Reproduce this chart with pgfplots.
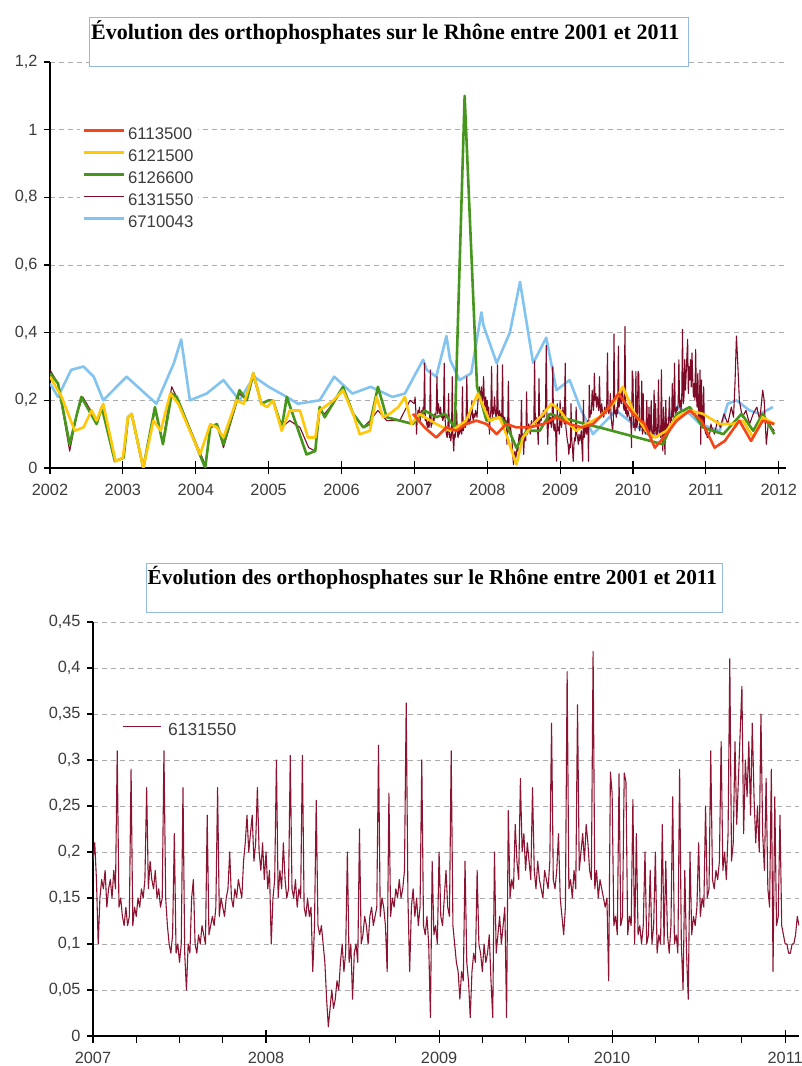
\documentclass[border=0pt]{standalone}
\usepackage{fontspec}
\setmainfont{Liberation Sans}
\newfontfamily\titlefont{Liberation Serif}
\usepackage{pgfplots}
\usepackage{pgfplotstable}
\pgfplotsset{compat=1.18}
\definecolor{cRed}{RGB}{245,70,25}
\definecolor{cYellow}{RGB}{255,200,10}
\definecolor{cGreen}{RGB}{70,150,30}
\definecolor{cMaroon}{RGB}{125,10,38}
\definecolor{cMaroonB}{RGB}{140,20,50}
\definecolor{cBlue}{RGB}{130,195,240}
\definecolor{cBox}{RGB}{150,185,225}
\definecolor{tickgray}{RGB}{60,60,60}

\pgfplotstableread[row sep=\\]{
x y\\
2007.00 0.19\\ 2007.01 0.21\\ 2007.02 0.17\\ 2007.03 0.10\\ 2007.04 0.15\\ 2007.05 0.17\\ 2007.06 0.16\\ 2007.07 0.18\\ 2007.08 0.14\\ 2007.09 0.16\\
2007.10 0.17\\ 2007.11 0.15\\ 2007.12 0.18\\ 2007.13 0.16\\ 2007.14 0.31\\ 2007.15 0.14\\ 2007.16 0.15\\ 2007.17 0.13\\ 2007.18 0.12\\ 2007.19 0.14\\
2007.20 0.12\\ 2007.21 0.13\\ 2007.22 0.29\\ 2007.23 0.12\\ 2007.24 0.14\\ 2007.25 0.13\\ 2007.26 0.15\\ 2007.27 0.14\\ 2007.28 0.16\\ 2007.29 0.15\\
2007.30 0.17\\ 2007.31 0.27\\ 2007.32 0.16\\ 2007.33 0.19\\ 2007.34 0.17\\ 2007.35 0.16\\ 2007.36 0.18\\ 2007.37 0.15\\ 2007.38 0.16\\ 2007.39 0.14\\
2007.40 0.15\\ 2007.41 0.31\\ 2007.42 0.15\\ 2007.43 0.12\\ 2007.44 0.10\\ 2007.45 0.09\\ 2007.46 0.11\\ 2007.47 0.22\\ 2007.48 0.09\\ 2007.49 0.10\\
2007.50 0.08\\ 2007.51 0.10\\ 2007.52 0.27\\ 2007.53 0.09\\ 2007.54 0.05\\ 2007.55 0.10\\ 2007.56 0.09\\ 2007.57 0.15\\ 2007.58 0.17\\ 2007.59 0.10\\
2007.60 0.09\\ 2007.61 0.11\\ 2007.62 0.10\\ 2007.63 0.12\\ 2007.64 0.11\\ 2007.65 0.10\\ 2007.66 0.24\\ 2007.67 0.11\\ 2007.68 0.12\\ 2007.69 0.13\\
2007.70 0.12\\ 2007.71 0.14\\ 2007.72 0.27\\ 2007.73 0.13\\ 2007.74 0.15\\ 2007.75 0.14\\ 2007.76 0.13\\ 2007.77 0.15\\ 2007.78 0.16\\ 2007.79 0.20\\
2007.80 0.15\\ 2007.81 0.14\\ 2007.82 0.16\\ 2007.83 0.15\\ 2007.84 0.17\\ 2007.85 0.16\\ 2007.86 0.15\\ 2007.87 0.19\\ 2007.88 0.21\\ 2007.89 0.24\\
2007.90 0.20\\ 2007.91 0.22\\ 2007.92 0.24\\ 2007.93 0.19\\ 2007.94 0.21\\ 2007.95 0.27\\ 2007.96 0.20\\ 2007.97 0.18\\ 2007.98 0.21\\ 2007.99 0.17\\
2008.00 0.20\\ 2008.01 0.16\\ 2008.02 0.18\\ 2008.03 0.10\\ 2008.04 0.15\\ 2008.05 0.17\\ 2008.06 0.30\\ 2008.07 0.15\\ 2008.08 0.18\\ 2008.09 0.16\\
2008.10 0.21\\ 2008.11 0.17\\ 2008.12 0.15\\ 2008.13 0.16\\ 2008.14 0.305\\ 2008.15 0.16\\ 2008.16 0.15\\ 2008.17 0.17\\ 2008.18 0.14\\ 2008.19 0.16\\
2008.20 0.15\\ 2008.21 0.305\\ 2008.22 0.14\\ 2008.23 0.13\\ 2008.24 0.15\\ 2008.25 0.13\\ 2008.26 0.14\\ 2008.27 0.07\\ 2008.28 0.12\\ 2008.29 0.256\\
2008.30 0.12\\ 2008.31 0.11\\ 2008.32 0.12\\ 2008.33 0.10\\ 2008.34 0.08\\ 2008.35 0.04\\ 2008.36 0.01\\ 2008.37 0.03\\ 2008.38 0.05\\ 2008.39 0.03\\
2008.40 0.04\\ 2008.41 0.06\\ 2008.42 0.05\\ 2008.43 0.08\\ 2008.44 0.10\\ 2008.45 0.07\\ 2008.46 0.09\\ 2008.47 0.20\\ 2008.48 0.08\\ 2008.49 0.10\\
2008.50 0.04\\ 2008.51 0.09\\ 2008.52 0.10\\ 2008.53 0.08\\ 2008.54 0.225\\ 2008.55 0.10\\ 2008.56 0.11\\ 2008.57 0.13\\ 2008.58 0.12\\ 2008.59 0.10\\
2008.60 0.13\\ 2008.61 0.14\\ 2008.62 0.12\\ 2008.63 0.13\\ 2008.64 0.14\\ 2008.65 0.316\\ 2008.66 0.13\\ 2008.67 0.15\\ 2008.68 0.14\\ 2008.69 0.12\\
2008.70 0.07\\ 2008.71 0.264\\ 2008.72 0.13\\ 2008.73 0.15\\ 2008.74 0.14\\ 2008.75 0.16\\ 2008.76 0.15\\ 2008.77 0.17\\ 2008.78 0.15\\ 2008.79 0.16\\
2008.80 0.18\\ 2008.81 0.362\\ 2008.82 0.15\\ 2008.83 0.07\\ 2008.84 0.14\\ 2008.85 0.16\\ 2008.86 0.13\\ 2008.87 0.15\\ 2008.88 0.12\\ 2008.89 0.14\\
2008.90 0.30\\ 2008.91 0.12\\ 2008.92 0.11\\ 2008.93 0.13\\ 2008.94 0.10\\ 2008.95 0.02\\ 2008.96 0.19\\ 2008.97 0.11\\ 2008.98 0.12\\ 2008.99 0.10\\
2009.00 0.20\\ 2009.01 0.13\\ 2009.02 0.12\\ 2009.03 0.15\\ 2009.04 0.18\\ 2009.05 0.14\\ 2009.06 0.13\\ 2009.07 0.31\\ 2009.08 0.12\\ 2009.09 0.10\\
2009.10 0.08\\ 2009.11 0.07\\ 2009.12 0.04\\ 2009.13 0.07\\ 2009.14 0.06\\ 2009.15 0.19\\ 2009.16 0.08\\ 2009.17 0.06\\ 2009.18 0.02\\ 2009.19 0.07\\
2009.20 0.09\\ 2009.21 0.08\\ 2009.22 0.18\\ 2009.23 0.10\\ 2009.24 0.09\\ 2009.25 0.07\\ 2009.26 0.10\\ 2009.27 0.08\\ 2009.28 0.09\\ 2009.29 0.11\\
2009.30 0.06\\ 2009.31 0.02\\ 2009.32 0.20\\ 2009.33 0.09\\ 2009.34 0.11\\ 2009.35 0.13\\ 2009.36 0.10\\ 2009.37 0.12\\ 2009.38 0.14\\ 2009.39 0.02\\
2009.40 0.245\\ 2009.41 0.15\\ 2009.42 0.17\\ 2009.43 0.16\\ 2009.44 0.23\\ 2009.45 0.19\\ 2009.46 0.17\\ 2009.47 0.28\\ 2009.48 0.20\\ 2009.49 0.22\\
2009.50 0.18\\ 2009.51 0.21\\ 2009.52 0.19\\ 2009.53 0.17\\ 2009.54 0.27\\ 2009.55 0.18\\ 2009.56 0.16\\ 2009.57 0.19\\ 2009.58 0.17\\ 2009.59 0.16\\
2009.60 0.15\\ 2009.61 0.18\\ 2009.62 0.17\\ 2009.63 0.16\\ 2009.64 0.19\\ 2009.65 0.34\\ 2009.66 0.17\\ 2009.67 0.16\\ 2009.68 0.18\\ 2009.69 0.22\\
2009.70 0.15\\ 2009.71 0.13\\ 2009.72 0.11\\ 2009.73 0.14\\ 2009.74 0.396\\ 2009.75 0.16\\ 2009.76 0.17\\ 2009.77 0.15\\ 2009.78 0.18\\ 2009.79 0.16\\
2009.80 0.36\\ 2009.81 0.18\\ 2009.82 0.20\\ 2009.83 0.22\\ 2009.84 0.19\\ 2009.85 0.23\\ 2009.86 0.21\\ 2009.87 0.18\\ 2009.88 0.17\\ 2009.89 0.418\\
2009.90 0.16\\ 2009.91 0.18\\ 2009.92 0.15\\ 2009.93 0.17\\ 2009.94 0.16\\ 2009.95 0.15\\ 2009.96 0.14\\ 2009.97 0.15\\ 2009.98 0.06\\ 2009.99 0.287\\
2010.00 0.264\\ 2010.01 0.12\\ 2010.02 0.13\\ 2010.03 0.11\\ 2010.04 0.285\\ 2010.05 0.12\\ 2010.06 0.13\\ 2010.07 0.286\\ 2010.08 0.276\\ 2010.09 0.11\\
2010.10 0.13\\ 2010.11 0.12\\ 2010.12 0.257\\ 2010.13 0.10\\ 2010.14 0.22\\ 2010.15 0.11\\ 2010.16 0.12\\ 2010.17 0.10\\ 2010.18 0.12\\ 2010.19 0.20\\
2010.20 0.10\\ 2010.21 0.11\\ 2010.22 0.18\\ 2010.23 0.10\\ 2010.24 0.12\\ 2010.25 0.20\\ 2010.26 0.09\\ 2010.27 0.11\\ 2010.28 0.10\\ 2010.29 0.23\\
2010.30 0.10\\ 2010.31 0.19\\ 2010.32 0.11\\ 2010.33 0.09\\ 2010.34 0.12\\ 2010.35 0.26\\ 2010.36 0.10\\ 2010.37 0.11\\ 2010.38 0.09\\ 2010.39 0.29\\
2010.40 0.10\\ 2010.41 0.05\\ 2010.42 0.18\\ 2010.43 0.09\\ 2010.44 0.04\\ 2010.45 0.20\\ 2010.46 0.11\\ 2010.47 0.13\\ 2010.48 0.12\\ 2010.49 0.14\\
2010.50 0.21\\ 2010.51 0.13\\ 2010.52 0.15\\ 2010.53 0.14\\ 2010.54 0.25\\ 2010.55 0.15\\ 2010.56 0.16\\ 2010.57 0.31\\ 2010.58 0.17\\ 2010.59 0.16\\
2010.60 0.18\\ 2010.61 0.17\\ 2010.62 0.19\\ 2010.63 0.32\\ 2010.64 0.18\\ 2010.65 0.20\\ 2010.66 0.17\\ 2010.67 0.22\\ 2010.68 0.41\\ 2010.69 0.19\\
2010.70 0.21\\ 2010.71 0.32\\ 2010.72 0.23\\ 2010.73 0.28\\ 2010.74 0.33\\ 2010.75 0.38\\ 2010.76 0.22\\ 2010.77 0.30\\ 2010.78 0.26\\ 2010.79 0.32\\
2010.80 0.24\\ 2010.81 0.34\\ 2010.82 0.26\\ 2010.83 0.21\\ 2010.84 0.25\\ 2010.85 0.20\\ 2010.86 0.35\\ 2010.87 0.22\\ 2010.88 0.18\\ 2010.89 0.28\\
2010.90 0.16\\ 2010.91 0.14\\ 2010.92 0.29\\ 2010.93 0.07\\ 2010.94 0.26\\ 2010.95 0.12\\ 2010.96 0.13\\ 2010.97 0.24\\ 2010.98 0.12\\ 2010.99 0.11\\
2011.00 0.10\\ 2011.01 0.10\\ 2011.02 0.09\\ 2011.03 0.09\\ 2011.04 0.10\\ 2011.05 0.10\\ 2011.06 0.11\\ 2011.07 0.13\\ 2011.08 0.12\\
}\stationdata

\pgfplotsset{
  common/.style={
    scale only axis, anchor=south west,
    axis x line=bottom, axis y line=left,
    axis line style={-, line width=1.3pt, black},
    tick align=outside,
    major tick length=13pt, minor tick length=6.5pt,
    major x tick style={yshift=6.5pt, line width=1.1pt, black},
    minor x tick style={line width=1.1pt, black},
    major y tick style={draw=none},
    minor y tick style={line width=1.1pt, black},
    ymajorgrids,
    grid style={dash pattern=on 5pt off 4pt, gray!65, line width=0.9pt},
    tick label style={font=\fontsize{16.3}{18}\selectfont, text=tickgray},
    yticklabel style={xshift=4pt},
    every axis plot/.append style={line join=round},
  }
}

\begin{document}
\begin{tikzpicture}
\useasboundingbox (0pt,0pt) rectangle (802pt,1066pt);
\fill[white] (0pt,0pt) rectangle (802pt,1066pt);

% ---------------- top chart ----------------
\begin{axis}[common,
  at={(50pt,598pt)}, width=736pt, height=406pt,
  xmin=2002, xmax=2012.1, ymin=0, ymax=1.2,
  xtick={2002,2003,...,2012},
  xticklabels={2002,2003,2004,2005,2006,2007,2008,2009,2010,2011,2012},
  minor x tick num=3,
  ytick={0,0.2,0.4,0.6,0.8,1,1.2},
  yticklabels={0,{0,2},{0,4},{0,6},{0,8},1,{1,2}},
  minor ytick={0,0.2,0.4,0.6,0.8,1,1.2},
  legend style={at={(0.0408,0.847)}, anchor=north west, draw=none, fill=white,
    inner xsep=2pt, inner ysep=2pt, row sep=5pt,
    font=\fontsize{16.8}{18}\selectfont, text=tickgray,
    nodes={inner xsep=3pt, inner ysep=1pt, text height=12pt, text depth=3pt},
    cells={anchor=west}},
  legend image code/.code={\draw[#1, line cap=butt] (0pt,4pt) -- (40pt,4pt);},
]
\addlegendimage{cRed, line width=2.8pt}\addlegendentry{6113500}
\addlegendimage{cYellow, line width=2.8pt}\addlegendentry{6121500}
\addlegendimage{cGreen, line width=2.8pt}\addlegendentry{6126600}
\addlegendimage{cMaroon, line width=1pt}\addlegendentry{6131550}
\addlegendimage{cBlue, line width=2.8pt}\addlegendentry{6710043}

% 6710043
\addplot[cBlue, line width=2.6pt, forget plot] coordinates {
(2002.00,0.25) (2002.11,0.21) (2002.29,0.29) (2002.46,0.30) (2002.60,0.27) (2002.73,0.20)
(2003.05,0.27) (2003.46,0.19) (2003.70,0.31) (2003.80,0.38) (2003.92,0.20) (2004.15,0.22)
(2004.38,0.26) (2004.60,0.20) (2004.80,0.27) (2005.00,0.24) (2005.25,0.21) (2005.40,0.19)
(2005.70,0.20) (2005.90,0.27) (2006.15,0.22) (2006.40,0.24) (2006.70,0.21) (2006.87,0.22)
(2007.12,0.32) (2007.17,0.29) (2007.30,0.27) (2007.44,0.39) (2007.49,0.32) (2007.62,0.26)
(2007.78,0.28) (2007.92,0.46) (2007.95,0.42) (2008.13,0.31) (2008.31,0.40) (2008.45,0.55)
(2008.63,0.31) (2008.81,0.385) (2008.95,0.23) (2009.13,0.26) (2009.29,0.17) (2009.45,0.10)
(2009.77,0.17) (2010.00,0.13) (2010.27,0.09) (2010.60,0.18) (2010.78,0.16) (2010.92,0.13)
(2011.19,0.11) (2011.30,0.19) (2011.42,0.20) (2011.60,0.17) (2011.74,0.16) (2011.92,0.18)
};
% 6131550
\addplot[cMaroon, line width=1.1pt, forget plot] coordinates {
(2002.00,0.29) (2002.11,0.25) (2002.27,0.05) (2002.37,0.16) (2002.45,0.21) (2002.64,0.14)
(2002.71,0.18) (2002.89,0.02) (2003.01,0.03) (2003.07,0.15) (2003.12,0.16) (2003.28,0.00)
(2003.44,0.17) (2003.55,0.08) (2003.67,0.24) (2003.76,0.20) (2004.13,0.01) (2004.20,0.12)
(2004.29,0.13) (2004.38,0.06) (2004.60,0.22) (2004.70,0.20) (2004.79,0.27) (2004.90,0.19)
(2005.00,0.20) (2005.06,0.20) (2005.18,0.12) (2005.29,0.14) (2005.43,0.12) (2005.55,0.06)
(2005.64,0.05) (2005.70,0.17) (2005.77,0.16) (2006.02,0.23) (2006.16,0.16) (2006.30,0.12)
(2006.39,0.14) (2006.50,0.17) (2006.62,0.14) (2006.80,0.14) (2006.94,0.20) (2007.00,0.19)
};
\addplot[cMaroon, line width=1.1pt, forget plot] table[x=x, y=y] {\stationdata};
\addplot[cMaroon, line width=1.1pt, forget plot] coordinates {
(2011.08,0.12) (2011.12,0.10) (2011.16,0.14) (2011.20,0.12) (2011.25,0.16) (2011.30,0.13)
(2011.35,0.18) (2011.38,0.15) (2011.40,0.25) (2011.42,0.39) (2011.44,0.30) (2011.46,0.20)
(2011.50,0.15) (2011.55,0.17) (2011.60,0.13) (2011.65,0.16) (2011.70,0.18) (2011.74,0.14)
(2011.78,0.23) (2011.80,0.20) (2011.83,0.07) (2011.86,0.14) (2011.90,0.12) (2011.94,0.11)
};
% 6126600
\addplot[cGreen, line width=2.6pt, forget plot] coordinates {
(2002.00,0.28) (2002.11,0.25) (2002.27,0.07) (2002.37,0.16) (2002.43,0.21) (2002.64,0.13)
(2002.71,0.18) (2002.89,0.02) (2003.01,0.03) (2003.07,0.15) (2003.12,0.16) (2003.28,0.00)
(2003.44,0.18) (2003.55,0.07) (2003.67,0.22) (2003.74,0.21) (2004.13,0.00) (2004.20,0.12)
(2004.29,0.13) (2004.38,0.07) (2004.60,0.23) (2004.70,0.20) (2004.79,0.28) (2004.90,0.19)
(2005.00,0.20) (2005.06,0.20) (2005.18,0.12) (2005.25,0.21) (2005.52,0.04) (2005.64,0.05)
(2005.70,0.18) (2005.77,0.15) (2006.02,0.24) (2006.16,0.16) (2006.30,0.12) (2006.39,0.13)
(2006.50,0.24) (2006.62,0.15) (2006.80,0.14) (2006.98,0.13) (2007.14,0.17) (2007.30,0.15)
(2007.42,0.16) (2007.555,0.12) (2007.69,1.10) (2007.86,0.24) (2007.99,0.14) (2008.17,0.15)
(2008.26,0.13) (2008.40,0.06) (2008.54,0.11) (2008.72,0.11) (2008.86,0.16) (2009.00,0.15)
(2009.18,0.14) (2009.34,0.13) (2009.54,0.12) (2010.41,0.07) (2010.60,0.16) (2010.78,0.18)
(2010.96,0.12) (2011.24,0.10) (2011.49,0.16) (2011.65,0.11) (2011.78,0.16) (2011.94,0.10)
};
% 6121500
\addplot[cYellow, line width=2.6pt, forget plot] coordinates {
(2002.00,0.27) (2002.16,0.21) (2002.34,0.11) (2002.46,0.12) (2002.57,0.17) (2002.64,0.14)
(2002.73,0.19) (2002.90,0.02) (2003.00,0.03) (2003.07,0.15) (2003.12,0.16) (2003.28,0.00)
(2003.42,0.14) (2003.52,0.11) (2003.65,0.22) (2003.76,0.19) (2004.06,0.04) (2004.20,0.13)
(2004.29,0.12) (2004.38,0.09) (2004.56,0.20) (2004.66,0.19) (2004.79,0.28) (2004.90,0.19)
(2004.98,0.18) (2005.06,0.20) (2005.18,0.11) (2005.29,0.17) (2005.43,0.17) (2005.54,0.09)
(2005.64,0.09) (2005.70,0.17) (2005.89,0.20) (2006.02,0.23) (2006.16,0.16) (2006.25,0.10)
(2006.39,0.11) (2006.48,0.21) (2006.57,0.15) (2006.66,0.16) (2006.78,0.18) (2006.87,0.21)
(2006.96,0.13) (2007.07,0.16) (2007.30,0.13) (2007.49,0.11) (2007.58,0.12) (2007.71,0.14)
(2007.87,0.22) (2008.03,0.14) (2008.17,0.15) (2008.26,0.10) (2008.40,0.01) (2008.49,0.09)
(2008.63,0.13) (2008.77,0.16) (2008.88,0.19) (2009.00,0.17) (2009.13,0.13) (2009.22,0.11)
(2009.36,0.13) (2009.54,0.15) (2009.73,0.19) (2009.86,0.24) (2010.00,0.17) (2010.18,0.11)
(2010.30,0.09) (2010.46,0.11) (2010.60,0.15) (2010.78,0.17) (2010.96,0.16) (2011.19,0.13)
(2011.37,0.13) (2011.51,0.14) (2011.65,0.09) (2011.78,0.15) (2011.94,0.13)
};
% 6113500
\addplot[cRed, line width=2.6pt, forget plot] coordinates {
(2006.98,0.16) (2007.14,0.12) (2007.30,0.09) (2007.44,0.12) (2007.58,0.11) (2007.71,0.13)
(2007.85,0.14) (2007.99,0.13) (2008.13,0.10) (2008.26,0.13) (2008.40,0.12) (2008.58,0.12)
(2008.77,0.13) (2008.95,0.15) (2009.13,0.13) (2009.30,0.12) (2009.45,0.13) (2009.64,0.17)
(2009.80,0.22) (2010.00,0.16) (2010.16,0.13) (2010.30,0.06) (2010.46,0.10) (2010.60,0.14)
(2010.78,0.17) (2010.94,0.14) (2011.12,0.06) (2011.26,0.08) (2011.46,0.14) (2011.62,0.08)
(2011.78,0.14) (2011.94,0.13)
};
\end{axis}

% ---------------- bottom chart ----------------
\begin{axis}[common,
  at={(93pt,30pt)}, width=706pt, height=414pt,
  xmin=2007, xmax=2011.08, ymin=0, ymax=0.45,
  xtick={2007,2008,2009,2010,2011},
  xticklabels={2007,2008,2009,2010,2011},
  minor x tick num=3,
  ytick={0,0.05,0.1,0.15,0.2,0.25,0.3,0.35,0.4,0.45},
  yticklabels={0,{0,05},{0,1},{0,15},{0,2},{0,25},{0,3},{0,35},{0,4},{0,45}},
  minor ytick={0,0.05,0.1,0.15,0.2,0.25,0.3,0.35,0.4,0.45},
  legend style={at={(0.0028,0.7633)}, anchor=north west, draw=none, fill=none,
    inner xsep=2pt, inner ysep=2pt,
    font=\fontsize{17.5}{19}\selectfont, text=tickgray,
    nodes={inner xsep=3pt, inner ysep=1pt, text height=12pt, text depth=3pt},
    cells={anchor=west}},
  legend image code/.code={\path (0pt,4pt); \draw[#1, line cap=butt] (25pt,4pt) -- (63pt,4pt); \path (67pt,4pt);},
]
\addlegendimage{cMaroonB, line width=1pt}\addlegendentry{6131550}
\addplot[cMaroonB, line width=1.1pt, forget plot] table[x=x, y=y] {\stationdata};
\end{axis}

% ---------------- titles ----------------
\draw[cBox, line width=0.8pt, fill=white] (89pt,1000pt) rectangle (688pt,1049pt);
\node[anchor=base west, inner sep=0pt, font=\titlefont\bfseries\fontsize{22}{26}\selectfont]
  at (91pt,1026.7pt) {Évolution des orthophosphates sur le Rhône entre 2001 et 2011};
\draw[cBox, line width=0.8pt, fill=white] (146pt,454pt) rectangle (722pt,503pt);
\node[anchor=base west, inner sep=0pt, font=\titlefont\bfseries\fontsize{21.3}{25}\selectfont]
  at (147.5pt,481pt) {Évolution des orthophosphates sur le Rhône entre 2001 et 2011};
\end{tikzpicture}
\end{document}
